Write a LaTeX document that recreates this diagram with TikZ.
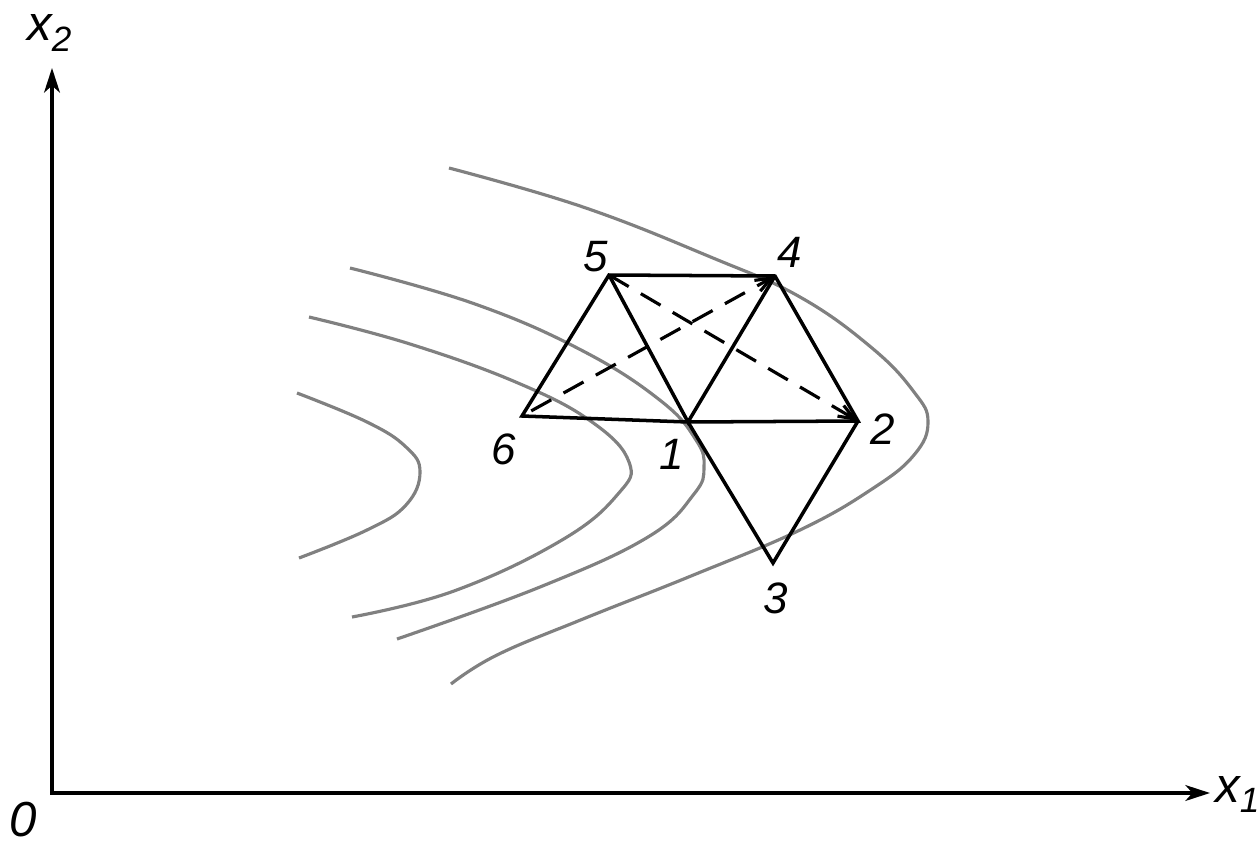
\documentclass[tikz,border=0pt]{standalone}
\usepackage{fontspec}
\setmainfont{Liberation Sans}
\usepackage{tikz}
\usetikzlibrary{arrows.meta}

\tikzset{
  axis/.style={line width=1.9pt,arrows={Stealth[length=14pt,width=9pt,inset=4pt]-Stealth[length=14pt,width=9pt,inset=4pt]}},
  edge/.style={line width=2pt,line join=miter},
  move/.style={line width=1.8pt,dash pattern=on 13pt off 8pt,-{Straight Barb[length=9pt,width=7pt,line width=1.8pt]}},
  level/.style={line width=1.8pt,black!50,smooth,tension=0.7},
  lbl/.style={inner sep=0pt,font=\itshape\fontsize{25}{25}\selectfont},
  axlbl/.style={inner sep=0pt,font=\itshape\fontsize{28}{28}\selectfont}
}

\begin{document}
\begin{tikzpicture}[x=0.02cm,y=-0.02cm]
    \useasboundingbox (0,0) rectangle (1258,846);

    %level lines
    \draw[level] plot coordinates {(297,393) (367,422) (406,447) (420,472) (406,505) (367,530) (299,558)};
    \draw[level] plot coordinates {(309,317) (410,344) (518,383) (592,422) (629,462) (618,494) (562,540) (454,591) (352,617)};
    \draw[level] plot coordinates {(350,268) (475,304) (583,351) (661,401) (696,440) (704,467) (694,494) (648,537) (540,587) (397,639)};
    \draw[level] plot coordinates {(449,168) (583,207) (713,258) (800,297) (872,348) (914,392) (928,422) (914,455) (872,489) (800,530) (691,576) (583,619) (497,655) (451,684)};

    %axes
    \coordinate (O) at (52,793);
    \coordinate (xend) at (1210,793);
    \coordinate (yend) at (52,68);
    \draw[axis] (yend) -- (O) -- (xend);
    \node[axlbl,anchor=base west] (lx1) at (1215,802) {x\raisebox{-5.7pt}{\fontsize{20}{20}\selectfont 1}};
    \node[axlbl,anchor=base west] (lx2) at (27,40) {x\raisebox{-6.8pt}{\fontsize{20}{20}\selectfont 2}};
    \node[axlbl] (l0) at (23,820) {0};

    %vertices
    \coordinate (v1) at (688,422);
    \coordinate (v2) at (858,421);
    \coordinate (v3) at (773,563);
    \coordinate (v4) at (775,276);
    \coordinate (v5) at (609,275);
    \coordinate (v6) at (522,416);

    \node[lbl] (l1) at (672,454) {1};
    \node[lbl] (l2) at (883,429) {2};
    \node[lbl] (l3) at (776,598) {3};
    \node[lbl] (l4) at (790,252) {4};
    \node[lbl] (l5) at (596,257) {5};
    \node[lbl] (l6) at (504,449) {6};

    %simplices
    \draw[edge] (v6) -- (v1) -- (v2) -- (v4) -- (v5) -- cycle;
    \draw[edge] (v5) -- (v1) -- (v4);
    \draw[edge] (v1) -- (v3) -- (v2);

    %reflections
    \draw[move,shorten <=6pt] (v6) -- (v4);
    \draw[move] (v5) -- (v2);

\end{tikzpicture}
\end{document}
